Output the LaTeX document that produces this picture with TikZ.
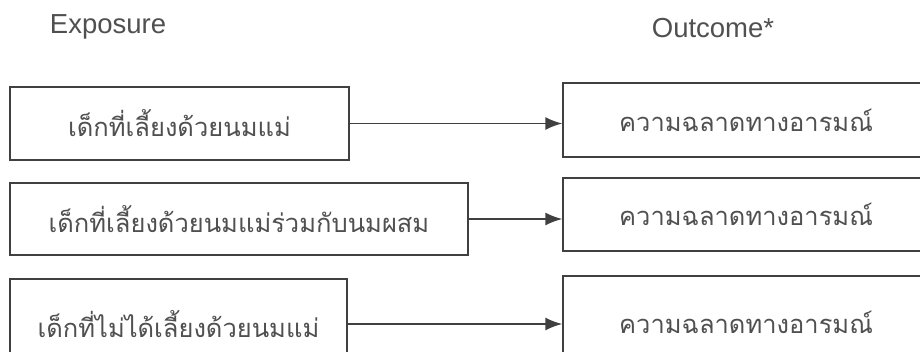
\documentclass[tikz,border=0pt]{standalone}
\usepackage{fontspec}
\setmainfont{Liberation Sans}
\newfontfamily\thaifont[Script=Thai]{Loma}
\usetikzlibrary{arrows.meta}
\definecolor{linegray}{HTML}{404040}
\definecolor{textgray}{HTML}{505050}
\tikzset{
  boxnode/.style={draw=linegray, line width=1.5pt, rectangle, inner sep=0pt,
    text=textgray, font=\thaifont\fontsize{25.5}{30}\selectfont},
  headlabel/.style={text=textgray, font=\fontsize{27.5}{32}\selectfont, inner sep=0pt},
  conn/.style={draw=linegray, line width=1.5pt, -{Latex[length=17pt,width=13pt]}}
}
\begin{document}
\begin{tikzpicture}[x=1pt,y=-1pt]
\useasboundingbox (0,0) rectangle (920,351);
\fill[white] (0,0) rectangle (920,351);
\clip (0,0) rectangle (920,351);
\node[headlabel] (hexp) at (108,27) {Exposure};
\node[headlabel] (hout) at (713,28) {Outcome*};
\node[boxnode, minimum width=339pt, minimum height=73pt] (e1) at (179.5,123.5) {เด็กที่เลี้ยงด้วยนมแม่};
\node[boxnode, minimum width=458pt, minimum height=72pt] (e2) at (239,219) {เด็กที่เลี้ยงด้วยนมแม่ร่วมกับนมผสม};
\node[boxnode, minimum width=337pt, minimum height=90pt] (e3) at (178.5,324) {เด็กที่ไม่ได้เลี้ยงด้วยนมแม่};
\node[boxnode, minimum width=366pt, minimum height=74pt] (o1) at (746,120) {ความฉลาดทางอารมณ์};
\node[boxnode, minimum width=366pt, minimum height=73pt] (o2) at (746,214.5) {ความฉลาดทางอารมณ์};
\node[boxnode, minimum width=366pt, minimum height=92pt] (o3) at (746,322) {ความฉลาดทางอารมณ์};
\draw[conn] (e1.east) -- (e1.east -| o1.west);
\draw[conn] (e2.east) -- (e2.east -| o2.west);
\draw[conn] (e3.east) -- (e3.east -| o3.west);
\end{tikzpicture}
\end{document}
